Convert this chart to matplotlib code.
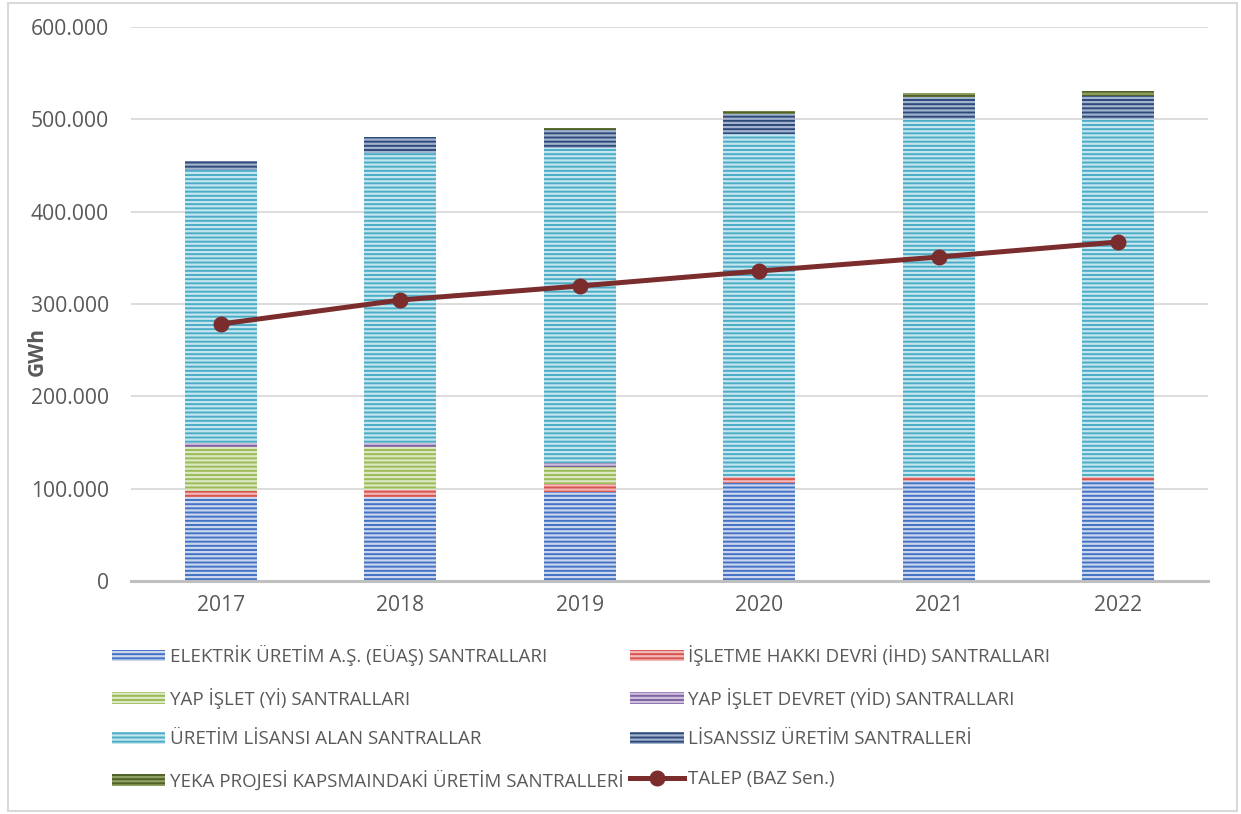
import matplotlib
matplotlib.use("Agg")
import matplotlib.pyplot as plt
import matplotlib.ticker as mticker
from matplotlib.patches import Rectangle
import numpy as np

years = ["2017", "2018", "2019", "2020", "2021", "2022"]
euas = [91000, 90600, 96700, 106500, 108300, 108300]
ihd = [6800, 8000, 8400, 6500, 4700, 4700]
yi = [47700, 46900, 18700, 0, 0, 0]
yid = [4300, 4300, 4300, 0, 0, 0]
uretim_lisansi = [295300, 314100, 341200, 370800, 387000, 387000]
lisanssiz = [9900, 16600, 19500, 21600, 23900, 25300]
yeka = [0, 0, 1500, 4000, 5000, 5700]
talep = [278300, 304300, 319500, 335700, 350900, 367200]

series = [
    ("ELEKTRİK ÜRETİM A.Ş. (EÜAŞ) SANTRALLARI", euas, "#4472C4", "#C9D6EE"),
    ("İŞLETME HAKKI DEVRİ (İHD) SANTRALLARI", ihd, "#D9534F", "#F0B8B6"),
    ("YAP İŞLET (Yİ) SANTRALLARI", yi, "#9BBB59", "#DCE8C4"),
    ("YAP İŞLET DEVRET (YİD) SANTRALLARI", yid, "#8064A2", "#CDBFDD"),
    ("ÜRETİM LİSANSI ALAN SANTRALLAR", uretim_lisansi, "#4BACC6", "#C6E6EF"),
    ("LİSANSSIZ ÜRETİM SANTRALLERİ", lisanssiz, "#2E4A7A", "#A3B3CE"),
    ("YEKA PROJESİ KAPSMAINDAKİ ÜRETİM SANTRALLERİ", yeka, "#4F6228", "#8FA060"),
]

plt.rcParams['font.family'] = ['Open Sans', 'DejaVu Sans']
plt.rcParams['hatch.linewidth'] = 1.6

W, H = 1241, 814
fig = plt.figure(figsize=(W / 100, H / 100), dpi=100)
ax = fig.add_axes([131 / W, 1 - 581 / H, (1208 - 131) / W, (581 - 27) / H])

x = np.arange(len(years))
bottom = np.zeros(len(years))
handles = {}
for label, vals, col, light in series:
    v = np.array(vals, dtype=float)
    bars = ax.bar(x, v, width=0.40, bottom=bottom, color=col, edgecolor=light,
                  linewidth=0, hatch="----", zorder=3, label=label)
    handles[label] = bars
    bottom += v

line, = ax.plot(x, talep, color="#7B2C2C", lw=3.6, marker="o", markersize=10.5,
                zorder=5, label="TALEP (BAZ Sen.)")

ax.set_xlim(-0.5, len(years) - 0.5)
ax.set_ylim(0, 600000)
ax.set_yticks(np.arange(0, 600001, 100000))
ax.yaxis.set_major_formatter(mticker.FuncFormatter(lambda v, p: f"{v:,.0f}".replace(",", ".")))
ax.set_xticks(x)
ax.set_xticklabels(years)
ax.tick_params(axis="both", length=0, labelsize=15.2, colors="#595959")
ax.tick_params(axis="y", pad=16)
ax.tick_params(axis="x", pad=10)
ax.grid(axis="y", color="#D9D9D9", lw=1.3, zorder=0)
for s in ["top", "right", "left"]:
    ax.spines[s].set_visible(False)
ax.spines["bottom"].set_color("#BFBFBF")
ax.spines["bottom"].set_linewidth(2.2)
ax.spines["bottom"].set_zorder(4)

ax.set_ylabel("GWh", fontsize=15, fontweight="bold", color="#595959")
ax.yaxis.set_label_coords(-0.077, 0.415)

labels = [s[0] for s in series]
order = [labels[0], labels[2], labels[4], labels[6], labels[1], labels[3], labels[5]]
hs = [handles[l] for l in order] + [line]
ls = order + ["TALEP (BAZ Sen.)"]
leg = fig.legend(hs, ls, ncol=2, loc="upper left", bbox_to_anchor=(112 / W, 1 - 645 / H),
                 frameon=False, fontsize=13.5, labelcolor="#595959",
                 handlelength=2.85, handleheight=0.55, handletextpad=0.22,
                 columnspacing=0.37, labelspacing=1.16, borderaxespad=0,
                 borderpad=0)

fig.patches.append(Rectangle((8 / W, 3 / H), (1237 - 8) / W, (811 - 3) / H,
                             transform=fig.transFigure, fill=False,
                             edgecolor="#D9D9D9", lw=1.5, zorder=0))

fig.savefig("out.png", dpi=100, facecolor="white")
